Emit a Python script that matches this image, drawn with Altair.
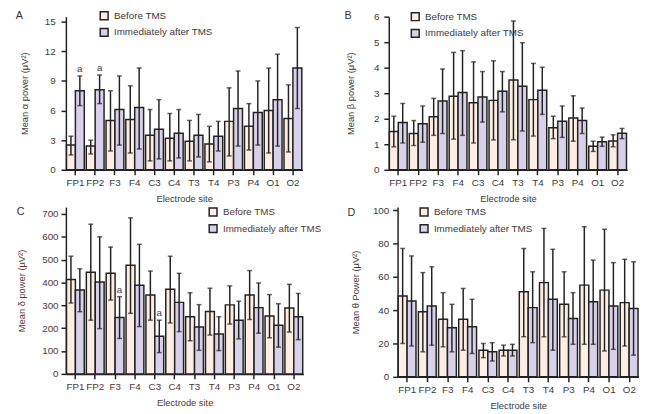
import altair as alt
import pandas as pd

sites = ["FP1", "FP2", "F3", "F4", "C3", "C4", "T3", "T4", "P3", "P4", "O1", "O2"]
conds = ["Before TMS", "Immediately after TMS"]

# Panel A: alpha
a_before = [2.5, 2.4, 5.0, 5.1, 3.5, 3.2, 2.9, 2.6, 4.9, 4.4, 6.0, 5.2]
a_before_lo = [1.5, 1.6, 1.9, 1.7, 0.9, 0.9, 0.9, 0.8, 1.4, 2.0, 1.7, 1.8]
a_before_hi = [3.4, 3.0, 8.0, 8.5, 6.1, 5.7, 5.0, 4.4, 8.3, 6.7, 10.3, 8.6]
a_after = [8.0, 8.1, 6.1, 6.3, 4.1, 3.7, 3.5, 3.4, 6.2, 5.8, 7.1, 10.3]
a_after_lo = [6.5, 6.7, 2.5, 2.1, 1.1, 1.2, 1.3, 1.9, 2.4, 2.5, 2.4, 6.2]
a_after_hi = [9.5, 9.6, 9.5, 10.3, 7.1, 6.1, 5.6, 4.9, 10.0, 9.0, 11.7, 14.4]
a_sig = ["FP1", "FP2"]

# Panel B: beta
b_before = [1.5, 1.42, 2.08, 2.88, 2.63, 2.72, 3.52, 2.75, 1.65, 2.03, 0.92, 1.13]
b_before_lo = [0.9, 0.95, 1.35, 1.2, 1.05, 1.17, 1.18, 1.32, 1.22, 1.12, 0.72, 0.9]
b_before_hi = [2.1, 1.93, 2.8, 4.6, 4.23, 4.27, 5.83, 4.17, 2.1, 2.9, 1.12, 1.37]
b_after = [1.85, 1.8, 2.7, 3.03, 2.85, 3.08, 3.27, 3.12, 1.9, 1.93, 1.1, 1.43]
b_after_lo = [1.05, 1.08, 1.42, 1.35, 1.87, 2.27, 1.52, 2.17, 1.27, 1.42, 0.92, 1.22]
b_after_hi = [2.6, 2.5, 3.95, 4.67, 3.85, 3.85, 4.98, 4.02, 2.5, 2.42, 1.28, 1.62]
b_sig = []

# Panel C: delta
c_before = [413, 445, 440, 475, 345, 370, 250, 273, 302, 345, 253, 288]
c_before_lo = [310, 235, 323, 265, 235, 223, 145, 170, 218, 238, 158, 183]
c_before_hi = [515, 655, 555, 683, 450, 515, 355, 375, 385, 452, 347, 392]
c_after = [367, 402, 247, 388, 165, 313, 205, 175, 235, 290, 213, 250]
c_after_lo = [272, 198, 155, 207, 93, 185, 103, 102, 153, 178, 117, 150]
c_after_hi = [460, 600, 338, 567, 235, 440, 303, 250, 318, 398, 307, 352]
c_sig = ["F3", "C3"]

# Panel D: theta
d_before = [48.5, 39, 34.5, 34.5, 16, 16, 51, 56.5, 43.5, 55, 52, 44.5]
d_before_lo = [20, 15, 18, 16, 11.5, 12.5, 24, 24, 24, 19.5, 15.5, 18.5]
d_before_hi = [77, 62.5, 50.5, 53, 20, 19, 77, 89, 63, 90, 88.5, 70.5]
d_after = [45.5, 42.5, 29.5, 30, 15, 16, 41.5, 46.5, 35, 45, 42.5, 41]
d_after_lo = [18.5, 19, 15, 14, 9.5, 12.5, 20.5, 16, 19.5, 19.5, 16.5, 13]
d_after_hi = [72.5, 66, 43.5, 46.5, 20.5, 19.5, 63, 76.5, 50.5, 70, 68.5, 69]
d_sig = []

FILL = ["#fdeee5", "#d9d1ea"]
FONT = "Liberation Sans"


def panel(letter, vals, ytitle, domain, tick_vals, width, height, lx, ly,
          sig, tcolor, letter_xy, label_pad, title_pad):
    bef, bef_lo, bef_hi, aft, aft_lo, aft_hi = vals
    rows = []
    for i, s in enumerate(sites):
        rows.append(dict(site=s, cond=conds[0], v=bef[i], lo=bef_lo[i], hi=bef_hi[i]))
        rows.append(dict(site=s, cond=conds[1], v=aft[i], lo=aft_lo[i], hi=aft_hi[i]))
    df = pd.DataFrame(rows)
    caps = pd.concat([
        df[["site", "cond", "lo"]].rename(columns={"lo": "c"}),
        df[["site", "cond", "hi"]].rename(columns={"hi": "c"}),
    ])
    sigdf = df[(df.cond == conds[1]) & (df.site.isin(sig))].assign(t="a")

    x = alt.X("site:N", sort=sites,
              scale=alt.Scale(paddingInner=0.1, paddingOuter=0.03),
              axis=alt.Axis(title="Electrode site", labelAngle=0, tickSize=5,
                            labelColor=tcolor, titleColor=tcolor, titlePadding=6,
                            labelPadding=3))
    xo = alt.XOffset("cond:N", sort=conds)
    yscale = alt.Scale(domain=domain, nice=False)
    yaxis = alt.Axis(title=ytitle, values=tick_vals, tickSize=5,
                     labelOverlap=False, labelFlush=False,
                     labelColor=tcolor, titleColor=tcolor,
                     titlePadding=title_pad, labelPadding=label_pad)

    bars = alt.Chart(df).mark_bar(stroke="#222", strokeWidth=1.5).encode(
        x=x, xOffset=xo,
        y=alt.Y("v:Q", scale=yscale, axis=yaxis),
        color=alt.Color("cond:N", sort=conds,
                        scale=alt.Scale(domain=conds, range=FILL),
                        legend=alt.Legend(title=None, orient="none",
                                          legendX=lx, legendY=ly,
                                          symbolType="square",
                                          symbolStrokeColor="#222",
                                          symbolStrokeWidth=1.5,
                                          symbolSize=64, labelFontSize=10,
                                          labelColor=tcolor, labelFont=FONT,
                                          rowPadding=3, labelOffset=5)),
    )
    rules = alt.Chart(df).mark_rule(color="#222", strokeWidth=1.5).encode(
        x=x, xOffset=xo, y=alt.Y("lo:Q", scale=yscale, axis=yaxis), y2="hi:Q")
    capm = alt.Chart(caps).mark_tick(color="#222", thickness=1.5, size=5).encode(
        x=x, xOffset=xo, y=alt.Y("c:Q", scale=yscale, axis=yaxis))
    layers = [bars, rules, capm]
    if len(sigdf):
        layers.append(alt.Chart(sigdf).mark_text(dy=-7, fontSize=10, color=tcolor,
                                                 font=FONT).encode(
            x=x, xOffset=xo, y=alt.Y("hi:Q", scale=yscale, axis=yaxis), text="t:N"))
    lab = alt.Chart(pd.DataFrame({"t": [letter]})).mark_text(
        fontSize=11, color="#333", font=FONT, align="left", baseline="middle").encode(
        x=alt.value(letter_xy[0]), y=alt.value(letter_xy[1]), text="t:N")
    layers.append(lab)
    return alt.layer(*layers).properties(width=width, height=height)


A = panel("A", (a_before, a_before_lo, a_before_hi, a_after, a_after_lo, a_after_hi),
          "Mean α power (μV²)", [0, 15.5], [0, 3, 6, 9, 12, 15], 241, 156, 34, -6,
          a_sig, "#3a3a3a", (-51, -1), 6, 15)
B = panel("B", (b_before, b_before_lo, b_before_hi, b_after, b_after_lo, b_after_hi),
          "Mean β power (μV²)", [0, 6], [0, 1, 2, 3, 4, 5, 6], 243, 156, 22, -5,
          b_sig, "#3a3a3a", (-45, -1), 5, 18)
C = panel("C", (c_before, c_before_lo, c_before_hi, c_after, c_after_lo, c_after_hi),
          "Mean δ power (μV²)", [0, 730], [0, 100, 200, 300, 400, 500, 600, 700], 242, 170, 145, 0,
          c_sig, "#5a3636", (-50, 5), 3, 16)
D = panel("D", (d_before, d_before_lo, d_before_hi, d_after, d_after_lo, d_after_hi),
          "Mean θ Power (μV²)", [0, 101.8], [0, 20, 40, 60, 80, 100], 246, 173, 22, 0,
          d_sig, "#3a3a3a", (-51, 6), 4, 12)

chart = alt.vconcat(
    alt.hconcat(A, B, spacing=42).resolve_scale(color="independent"),
    alt.hconcat(C, D, spacing=26).resolve_scale(color="independent"),
    spacing=2,
).resolve_scale(color="independent").properties(
    padding={"left": 8, "top": -2, "right": 0, "bottom": 0}
).configure(
    font=FONT
).configure_view(stroke=None).configure_axis(
    grid=False, domainColor="#222", domainWidth=1.5, tickColor="#222", tickWidth=1.5,
    labelFontSize=10, titleFontSize=9.5, titleFontWeight="normal", labelFont=FONT,
    titleFont=FONT
)

chart.save("out.html", embed_options={"renderer": "svg", "actions": False})
